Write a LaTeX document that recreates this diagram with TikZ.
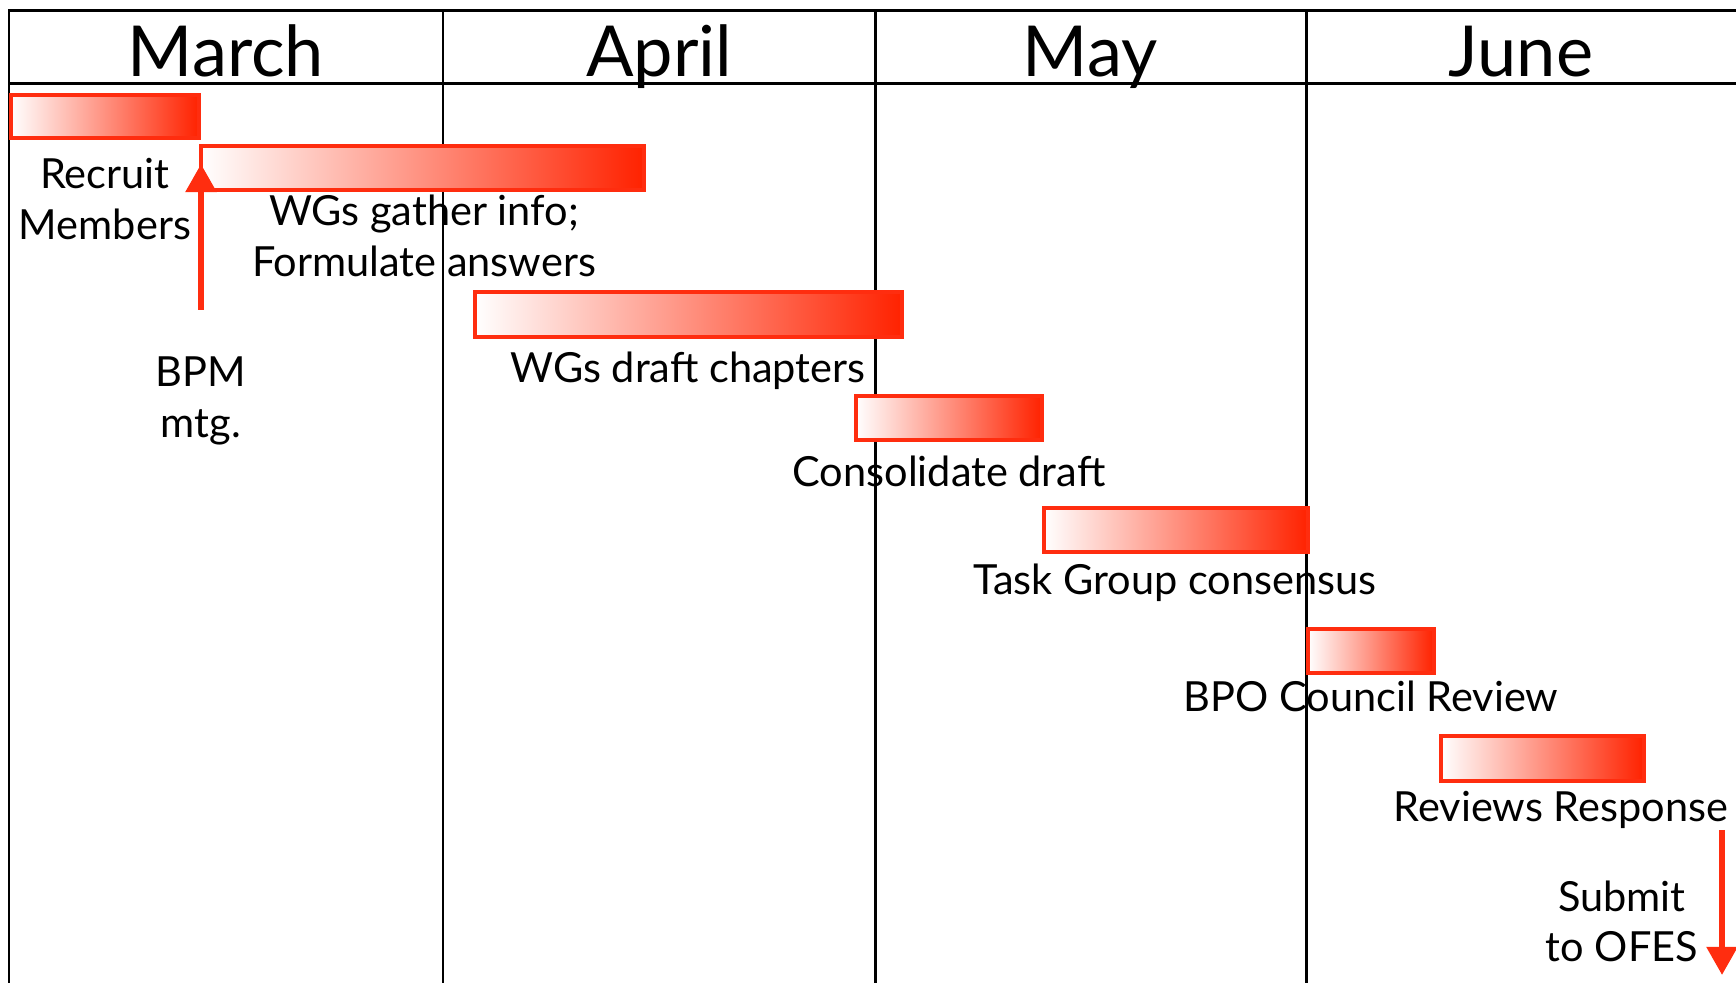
\documentclass[tikz,border=0pt]{standalone}
\usepackage{fontspec}
\setmainfont{Lato}
\usetikzlibrary{arrows.meta}
\definecolor{barred}{RGB}{255,34,0}
\definecolor{barline}{RGB}{255,45,15}
\tikzset{
	grid/.style={line width=0.85pt, color=black},
	taskbar/.style={draw=barline, line width=1pt, left color=white, right color=barred},
	month/.style={font=\fontsize{20}{24}\selectfont, anchor=base, inner sep=0pt},
	task/.style={font=\fontsize{11.8}{14.5}\selectfont, anchor=base, align=center, inner sep=0pt},
	redarrow/.style={draw=barline, line width=1.7pt, -{Triangle[width=8.5pt, length=8pt]}}
}

\begin{document}
\begin{tikzpicture}[x=0.01cm, y=-0.01cm]
			%%%%% START %%%%%
			\useasboundingbox (0,0) rectangle (1736,983);
			
			\draw[grid] (1736,11) -- (9,11) -- (9,983);
			\draw[grid] (9,84) -- (1736,84);
			\foreach \xx in {443,875,1306}
				\draw[grid] (\xx,11) -- (\xx,983);
			
			\node[month] (march) at (226,77) {March};
			\node[month] (april) at (659,77) {April};
			\node[month] (may) at (1090,77) {May};
			\node[month] (june) at (1521,77) {June};
			
			\draw[taskbar] (11,95) rectangle (199,138);
			\draw[taskbar] (201,146) rectangle (644,190);
			\draw[taskbar] (475,292) rectangle (902,337);
			\draw[taskbar] (856,396) rectangle (1042,440);
			\draw[taskbar] (1044,508) rectangle (1308,552);
			\draw[taskbar] (1308,629) rectangle (1434,673);
			\draw[taskbar] (1441,736) rectangle (1644,781);
			
			% two-line labels sit on the baseline of their last line
			\node[task] (recruit) at (105,240) {Recruit\\Members};
			\node[task] (gather) at (424,277) {WGs gather info;\\Formulate answers};
			\node[task] (bpm) at (201,438) {BPM\\mtg.};
			\node[task] (chapters) at (688,383) {WGs draft chapters};
			\node[task] (consolidate) at (949,487) {Consolidate draft};
			\node[task] (consensus) at (1175,595) {Task Group consensus};
			\node[task] (council) at (1371,712) {BPO Council Review};
			\node[task] (response) at (1561,822) {Reviews Response};
			\node[task] (submit) at (1622,962) {Submit\\to OFES};
			
			\coordinate (bpmtail) at (201,310);
			\coordinate (bpmtip) at (201,164);
			\draw[redarrow] (bpmtail) -- (bpmtip);
			
			\coordinate (ofestail) at (1722,830);
			\coordinate (ofestip) at (1722,975);
			\draw[redarrow] (ofestail) -- (ofestip);
			%%%%% END %%%%%
\end{tikzpicture}
\end{document}
